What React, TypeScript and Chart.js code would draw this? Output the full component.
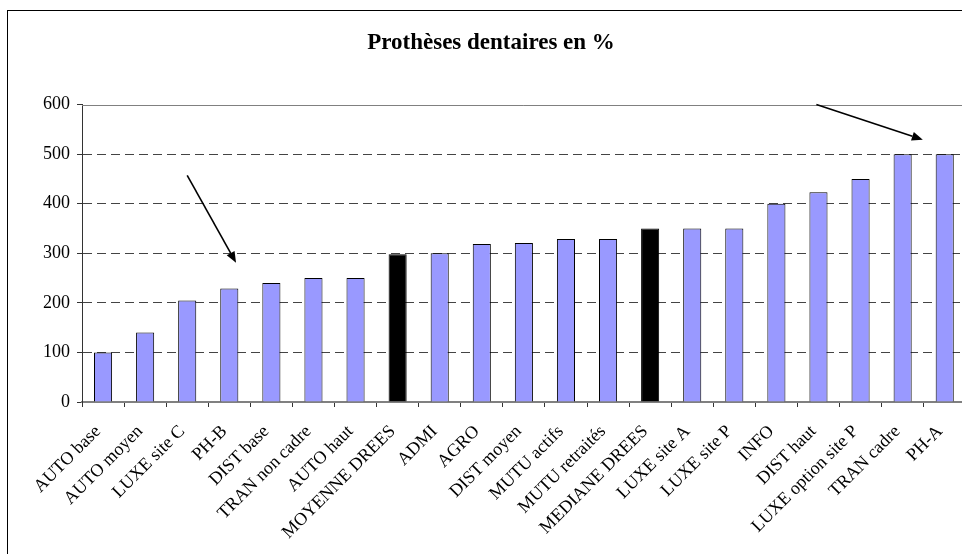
import React, { useEffect, useRef } from "react";
import { Chart, registerables } from "chart.js";

Chart.register(...registerables);

const title = "Prothèses dentaires en %";

const categories = [
  "AUTO base",
  "AUTO moyen",
  "LUXE site C",
  "PH-B",
  "DIST base",
  "TRAN non cadre",
  "AUTO haut",
  "MOYENNE DREES",
  "ADMI",
  "AGRO",
  "DIST moyen",
  "MUTU actifs",
  "MUTU retraités",
  "MEDIANE DREES",
  "LUXE site A",
  "LUXE site P",
  "INFO",
  "DIST haut",
  "LUXE option site P",
  "TRAN cadre",
  "PH-A",
];

const values = [100, 140, 205, 229, 240, 250, 250, 298, 300, 319, 321, 329, 329, 350, 350, 350, 400, 423, 450, 500, 500];

const highlighted = ["MOYENNE DREES", "MEDIANE DREES"];

const yMin = 0;
const yMax = 600;
const yStep = 100;

// arrows in data units: [categoryIndex, value]
const arrowFrom = [
  [2.0, 457],
  [16.95, 600],
];
const arrowTo = [
  [3.16, 281],
  [19.48, 529],
];

const FONT = "'Liberation Serif', 'Times New Roman', serif";

export default function App() {
  const ref = useRef<HTMLCanvasElement | null>(null);

  useEffect(() => {
    if (!ref.current) return;

    const overlay = {
      id: "overlay",
      afterDraw(chart: any) {
        const { ctx, chartArea, scales } = chart;
        const x = scales.x;
        const y = scales.y;
        ctx.save();
        // solid top line at max
        const yt = Math.round(y.getPixelForValue(yMax)) + 0.5;
        ctx.strokeStyle = "#808080";
        ctx.lineWidth = 1;
        ctx.beginPath();
        ctx.moveTo(chartArea.left, yt);
        ctx.lineTo(chartArea.right, yt);
        ctx.stroke();
        // arrows
        ctx.strokeStyle = "#000";
        ctx.fillStyle = "#000";
        ctx.lineWidth = 1.6;
        for (let i = 0; i < arrowFrom.length; i++) {
          const x1 = x.getPixelForValue(arrowFrom[i][0]);
          const y1 = y.getPixelForValue(arrowFrom[i][1]);
          const x2 = x.getPixelForValue(arrowTo[i][0]);
          const y2 = y.getPixelForValue(arrowTo[i][1]);
          const ang = Math.atan2(y2 - y1, x2 - x1);
          const hl = 11;
          const hw = 4.5;
          const bx = x2 - hl * Math.cos(ang);
          const by = y2 - hl * Math.sin(ang);
          ctx.beginPath();
          ctx.moveTo(x1, y1);
          ctx.lineTo(bx, by);
          ctx.stroke();
          ctx.beginPath();
          ctx.moveTo(x2, y2);
          ctx.lineTo(bx + hw * Math.sin(ang), by - hw * Math.cos(ang));
          ctx.lineTo(bx - hw * Math.sin(ang), by + hw * Math.cos(ang));
          ctx.closePath();
          ctx.fill();
        }
        ctx.restore();
      },
    };

    const chart = new Chart(ref.current, {
      type: "bar",
      data: {
        labels: categories,
        datasets: [
          {
            data: values,
            backgroundColor: categories.map((c) => (highlighted.includes(c) ? "#000000" : "#9999FF")),
            borderColor: "#000000",
            borderWidth: 1,
            barPercentage: 0.43,
            categoryPercentage: 1,
          },
        ],
      },
      options: {
        responsive: false,
        animation: false,
        layout: { padding: { left: 0, right: 0, top: 0, bottom: 0 } },
        plugins: {
          legend: { display: false },
          tooltip: { enabled: false },
          title: {
            display: true,
            text: title,
            color: "#000",
            font: { family: FONT, size: 23, weight: "bold" },
            padding: { top: 18, bottom: 48 },
          },
        },
        scales: {
          x: {
            offset: true,
            afterFit: (s: any) => {
              s.height = 152;
            },
            grid: {
              offset: true,
              drawOnChartArea: false,
              drawTicks: true,
              tickLength: 5,
              tickColor: "#333",
            },
            border: { display: true, color: "#808080", width: 2 },
            ticks: {
              autoSkip: false,
              maxRotation: 45,
              minRotation: 45,
              color: "#000",
              padding: 14,
              labelOffset: -5,
              font: { family: FONT, size: 18 },
            },
          },
          y: {
            min: yMin,
            max: yMax,
            afterFit: (s: any) => {
              s.width = 74;
            },
            grid: {
              color: (c: any) => (c.tick && c.tick.value === yMax ? "rgba(0,0,0,0)" : "#444"),
              lineWidth: 1,
              drawTicks: true,
              tickLength: 5,
              tickColor: "#333",
            },
            border: { display: true, color: "#333", width: 1, dash: [9, 5] },
            ticks: {
              stepSize: yStep,
              color: "#000",
              padding: 7,
              font: { family: FONT, size: 18 },
            },
          },
        },
      },
      plugins: [overlay],
    } as any);

    return () => chart.destroy();
  }, []);

  return (
    <div
      style={{
        position: "fixed",
        left: 0,
        top: 0,
        width: "100vw",
        height: "100vh",
        overflow: "hidden",
        background: "#fff",
      }}
    >
      <div
        style={{
          position: "absolute",
          left: 7,
          top: 10,
          width: 1000,
          height: 600,
          border: "1px solid #000",
        }}
      />
      <canvas
        ref={ref}
        width={966}
        height={543}
        style={{ position: "absolute", left: 8, top: 11, width: 966, height: 543, display: "block" }}
      />
    </div>
  );
}
